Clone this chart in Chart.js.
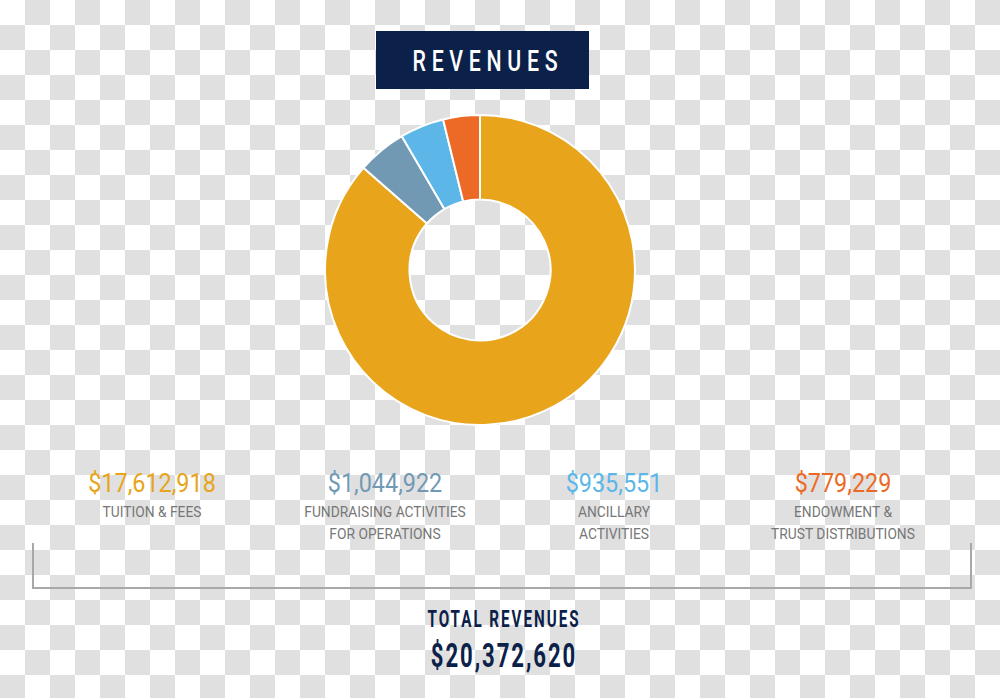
<!DOCTYPE html>
<html lang="en">
<head>
    <meta charset="UTF-8">
    <title>Revenues</title>
    <script src="https://cdn.jsdelivr.net/npm/chart.js"></script>
    <style>
        body { margin: 0; width: 1000px; height: 698px; position: relative; overflow: hidden;
               background: repeating-conic-gradient(#e0e0e0 0 25%, #ffffff 0 50%) 0 0 / 50px 50px;
               font-family: Roboto, "Open Sans", sans-serif; }
        .title { position: absolute; left: 376px; top: 31px; width: 213px; height: 58px; background: #0b2149; }
        .title span { display: block; color: #fff; font-family: Roboto, sans-serif; font-weight: 500; font-size: 30px;
                      letter-spacing: 8px; text-align: center; line-height: 60px; text-indent: 8px;
                      transform: scaleX(0.71); white-space: nowrap; }
        .chart-box { position: absolute; left: 324px; top: 114px; width: 312px; height: 312px; }
        .item { position: absolute; top: 466px; width: 240px; margin-left: -120px; text-align: center; }
        .item .val { font-size: 26px; line-height: 34px; font-weight: 400; transform: scaleX(0.9); }
        .item .cat { font-size: 15px; line-height: 22px; color: #777; margin-top: 1px; transform: scaleX(0.92); }
        .bracket { position: absolute; left: 32px; top: 543px; width: 936px; height: 44px;
                   border: 2px solid #a8a8a8; border-top: none; }
        .total { position: absolute; left: 354px; width: 300px; text-align: center; color: #0b2149; white-space: nowrap;
                 font-family: Roboto, sans-serif; font-weight: bold; }
        #totalLabel { top: 606px; font-size: 23px; letter-spacing: 3px; transform: scaleX(0.66); }
        #totalValue { top: 635px; font-size: 34px; letter-spacing: 3px; transform: scaleX(0.65); }
    </style>
</head>
<body>
    <div class="title"><span>REVENUES</span></div>
    <div class="chart-box"><canvas id="donut"></canvas></div>
    <div id="labels"></div>
    <div class="bracket"></div>
    <div class="total" id="totalLabel">TOTAL REVENUES</div>
    <div class="total" id="totalValue"></div>

    <script>
        const categories = [
            ["TUITION & FEES"],
            ["FUNDRAISING ACTIVITIES", "FOR OPERATIONS"],
            ["ANCILLARY", "ACTIVITIES"],
            ["ENDOWMENT &", "TRUST DISTRIBUTIONS"]
        ];
        const revenues = [17612918, 1044922, 935551, 779229];
        const colors = ["#e8a41b", "#7199b4", "#5cb7e8", "#ec6a25"];
        const labelX = [152, 385, 614, 843];

        const money = v => "$" + v.toLocaleString("en-US");

        let labelsDiv = document.getElementById("labels");
        categories.forEach((cat, i) => {
            let d = document.createElement("div");
            d.className = "item";
            d.style.left = labelX[i] + "px";
            d.innerHTML = `<div class="val" style="color:${colors[i]}">${money(revenues[i])}</div>` +
                `<div class="cat">${cat.join("<br>")}</div>`;
            labelsDiv.appendChild(d);
        });

        let total = revenues.reduce((a, b) => a + b, 0);
        document.getElementById("totalValue").innerText = money(total);

        const ctx = document.getElementById("donut").getContext("2d");
        const donut = new Chart(ctx, {
            type: "doughnut",
            data: {
                labels: categories.map(c => c.join(" ")),
                datasets: [{ data: revenues, backgroundColor: colors, borderColor: "#ffffff", borderWidth: 2 }]
            },
            options: {
                responsive: true, maintainAspectRatio: false, animation: false,
                cutout: "45.5%",
                plugins: { legend: { display: false }, tooltip: { enabled: false } }
            }
        });
    </script>
</body>
</html>
